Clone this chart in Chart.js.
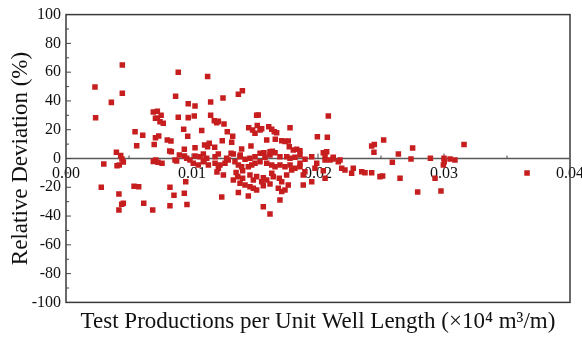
<!DOCTYPE html>
<html>
<head>
<meta charset="utf-8">
<script src="https://cdn.jsdelivr.net/npm/chart.js@4.4.1/dist/chart.umd.min.js"></script>
<style>
  html, body { margin: 0; padding: 0; background: #fff; }
  #wrap { width: 582px; height: 341px; }
</style>
</head>
<body>
<div id="wrap"><canvas id="scatter"></canvas></div>
<script>
// test production per unit well length (x10^4 m3/m)
const production = [
  0.0023, 0.00235, 0.0028, 0.0030, 0.0036, 0.0040, 0.00405, 0.00423, 0.0042, 0.0042,
  0.00434, 0.00444, 0.00447, 0.00447, 0.00442, 0.00455, 0.00455, 0.0054, 0.00548, 0.00561,
  0.00577, 0.00609, 0.00617, 0.00688, 0.00693, 0.0070, 0.00693, 0.0071, 0.0071, 0.00712,
  0.00725, 0.00725, 0.00736, 0.0073, 0.00746, 0.00762, 0.00772, 0.00755, 0.00804, 0.00833,
  0.00823, 0.00836, 0.00825, 0.00857, 0.00825, 0.0087, 0.00891, 0.00891, 0.00878, 0.0090,
  0.0094, 0.00934, 0.00939, 0.0095, 0.00939, 0.0096, 0.0097, 0.0097, 0.00966, 0.00865,
  0.00958, 0.00984, 0.0101, 0.0105, 0.0109, 0.0113, 0.01183, 0.01209, 0.01198, 0.01249,
  0.01095, 0.01222, 0.01262, 0.01288, 0.01341, 0.01368, 0.01394, 0.01024, 0.01018, 0.01077,
  0.01024, 0.0110, 0.01124, 0.01137, 0.0118, 0.01124, 0.01148, 0.01148, 0.01177, 0.01196,
  0.01209, 0.01254, 0.01246, 0.0124, 0.0128, 0.01236, 0.01323, 0.01315, 0.0131, 0.01368,
  0.0140, 0.01394, 0.01383, 0.01328, 0.01368, 0.01381, 0.01363, 0.0135, 0.01402, 0.01402,
  0.01421, 0.01447, 0.0146, 0.0146, 0.01487, 0.01487, 0.01513, 0.01513, 0.01553, 0.01566,
  0.01566, 0.01566, 0.01619, 0.01593, 0.01619, 0.01633, 0.01645, 0.01685, 0.01698, 0.01712,
  0.01693, 0.01712, 0.01738, 0.01751, 0.01764, 0.01883, 0.01883, 0.0195, 0.01896, 0.01976,
  0.0199, 0.02042, 0.01791, 0.01817, 0.01857, 0.01447, 0.01474, 0.015, 0.0154, 0.01593,
  0.01633, 0.01659, 0.01698, 0.01738, 0.01778, 0.01857, 0.02056, 0.02095, 0.02161, 0.02214,
  0.02267, 0.0228, 0.02347, 0.02426, 0.02492, 0.02513, 0.02188, 0.02373,
  0.01024, 0.01063, 0.0109, 0.01117, 0.01183, 0.01209, 0.01275, 0.01328, 0.01381, 0.01421,
  0.0146, 0.015, 0.0154, 0.01579, 0.01619, 0.01659, 0.01698, 0.01752, 0.01778, 0.01817,
  0.01857, 0.01897, 0.0195, 0.02042, 0.02056, 0.02121,
  0.0145, 0.01481, 0.015, 0.0154, 0.01553, 0.01518, 0.01513, 0.01526, 0.01609, 0.01633,
  0.01653, 0.01672, 0.01778, 0.01593, 0.01661, 0.01712, 0.01738, 0.01764, 0.01772, 0.01804,
  0.01831, 0.01857, 0.01468, 0.01571, 0.01619, 0.01638, 0.01995, 0.02074, 0.02082, 0.02069,
  0.02056, 0.0212, 0.02175, 0.02521, 0.02426, 0.02447, 0.02444, 0.0259, 0.02638, 0.02651,
  0.02751, 0.02738, 0.02791, 0.02892, 0.02929, 0.02976, 0.02995, 0.03002, 0.0300, 0.03048,
  0.03087, 0.03159, 0.03659
];

// relative deviation (%)
const deviation = [
  49.7, 28.3, -20, -3.8, 39, 4.3, -5, -4.5, -24.7, -35.8,
  2, -0.3, 64.9, 45.3, -31.8, -31.1, -2.4, -19.3, 18.6, 8.9,
  -19.6, 16.1, -31.1, -35.8, 32.3, 9.8, -2, 28, 14.5, -1,
  32.8, 28, 15.6, -2.6, 25.6, -3.3, 24.5, 30, 12.8, 12.2,
  5.2, 4.7, -20, -25.6, -32.8, 43.2, 59.9, 28.6, -1.7, 2.4,
  1.7, 20.3, 6.4, -16.2, -24.2, -32, 38, 28.4, 15.4, -1,
  0.1, -1, -3.3, -4.5, -2.2, -4.5, -3.3, -6.8, -9.4, -11.5,
  -1, -4.5, -3.3, -1, -2.2, -4.5, -5.7, 36.5, 29.5, 19.5,
  7.5, 9.4, 8.2, 10.6, 7.8, 57, 39.3, 30, 26.2, 24.9,
  25.8, 24, 42, 12.4, 18.6, -26.8, 15.4, 11.3, 3.6, 44.6,
  47.1, 6.6, 2.4, -14.9, -23.7, -17.2, -12.6, -9.8, -13.8, -8.5,
  -18.4, -26, -19.6, -11.5, -20.7, -14.9, -21.9, -12.6, -16.1, -19,
  -13.3, -33.5, -38.5, -14.9, -17.7, -10.3, -12.6, -20.7, -28.8, -23,
  -13.8, -16.1, -21.9, -11.5, -18.4, -18.4, -11.5, -16.1, -9.2, -6.8,
  -3.3, -8.5, -8, -6.8, -5.7, -5.7, -4.5, -3.3, -2.2, -3.3,
  -4.5, -5.7, -4.5, -5.7, -4.5, -3.3, -13.8, -1, -2.2, -8,
  -10.3, -6.8, -9.2, -9.9, -12.6, -12.2, -6.8, -9.9,
  1.7, 1.2, 3.1, 0.1, 1.2, 3.1, 0.1, 3.1, 1.2, -0.6,
  0.1, 1.2, 3.6, 0.8, 2.4, 4.0, 1.2, 1.2, 0.1, 0.8,
  2.4, -0.6, 1.2, 4.0, 1.7, 0.8,
  21.4, 19.8, 17.5, 19.8, 20.7, 23, 30, 30.2, 22, 20.3,
  18.6, 17.9, 21.4, 12.8, 13.3, 12.4, 11.9, 12.2, 8.2, 5.9,
  6.4, 5.4, 8.7, 4, 4.7, 5, 15.1, 14.7, 29.5, 4.7,
  -1, -0.3, -1, 12.8, 8.7, 9.8, 4.3, -2.6, 3.1, -13.8,
  7.3, -0.3, -23.3, 0.1, -13.8, -22.6, -4.5, -2.2, 0.1, -0.3,
  -1, 9.8, -10.1
];

const xMin = 0, xMax = 0.04, xStep = 0.01;
const yMin = -100, yMax = 100, yStep = 20;
const xTitle = 'Test Productions per Unit Well Length (\u00d710\u2074 m\u00b3/m)';
const yTitle = 'Relative Deviation (%)';

const points = production.map((x, i) => ({ x: x, y: deviation[i] }));

Chart.defaults.font.family = '"Liberation Serif", "Times New Roman", serif';
Chart.defaults.color = '#111';

// box around the plot, the zero line and the small inward ticks
const framePlugin = {
  id: 'frame',
  beforeDatasetsDraw(chart) {
    const { ctx, chartArea: a, scales } = chart;
    const xs = scales.x, ys = scales.y;
    const y0 = ys.getPixelForValue(0);
    ctx.save();
    ctx.strokeStyle = '#3a3a3a';
    ctx.lineWidth = 1.5;
    ctx.strokeRect(a.left, a.top, a.right - a.left, a.bottom - a.top);

    ctx.strokeStyle = '#5a5a5a';
    ctx.lineWidth = 1.3;
    ctx.beginPath();
    ctx.moveTo(a.left, y0);
    ctx.lineTo(a.right, y0);
    ctx.stroke();

    ctx.lineWidth = 1;
    ctx.strokeStyle = '#444';
    ctx.beginPath();
    for (let v = yMin + 10; v < yMax; v += 10) {
      const py = ys.getPixelForValue(v);
      const len = v % 20 === 0 ? 5 : 3;
      ctx.moveTo(a.left, py);
      ctx.lineTo(a.left + len, py);
    }
    for (let k = 1; k < 8; k++) {
      const px = xs.getPixelForValue(k * 0.005);
      const len = k % 2 === 0 ? 5 : 3;
      ctx.moveTo(px, y0);
      ctx.lineTo(px, y0 - len);
    }
    ctx.stroke();
    ctx.restore();
  }
};

new Chart(document.getElementById('scatter'), {
  type: 'scatter',
  data: {
    datasets: [{
      label: yTitle,
      data: points,
      pointStyle: 'rect',
      pointRadius: 3.9,
      pointBorderWidth: 0,
      pointBackgroundColor: '#c61e1e',
      backgroundColor: '#c61e1e'
    }]
  },
  plugins: [framePlugin],
  options: {
    responsive: true,
    maintainAspectRatio: false,
    animation: false,
    layout: { padding: { top: 14, right: 12, left: 0, bottom: 0 } },
    plugins: {
      legend: { display: false },
      tooltip: { enabled: false },
      title: {
        display: true,
        position: 'bottom',
        fullSize: false,
        text: xTitle,
        color: '#111',
        font: { size: 23, weight: 'normal' },
        padding: { top: 6, bottom: 5 }
      }
    },
    scales: {
      x: {
        type: 'linear',
        min: xMin,
        max: xMax,
        position: { y: 0 },
        grid: { display: false, drawTicks: false },
        border: { display: false },
        ticks: {
          stepSize: xStep,
          padding: 6,
          font: { size: 16 },
          color: '#111',
          callback: v => v.toFixed(2)
        },
        afterFit: s => { s.paddingLeft = 0; s.paddingRight = 0; }
      },
      y: {
        min: yMin,
        max: yMax,
        grid: { display: false, drawTicks: false },
        border: { display: false },
        ticks: {
          stepSize: yStep,
          padding: 5,
          font: { size: 16 },
          color: '#111'
        },
        title: {
          display: true,
          text: yTitle,
          color: '#111',
          font: { size: 23, weight: 'normal' },
          padding: { top: 7, bottom: 0 }
        },
        afterFit: s => { s.width = 66; }
      }
    }
  }
});
</script>
</body>
</html>
